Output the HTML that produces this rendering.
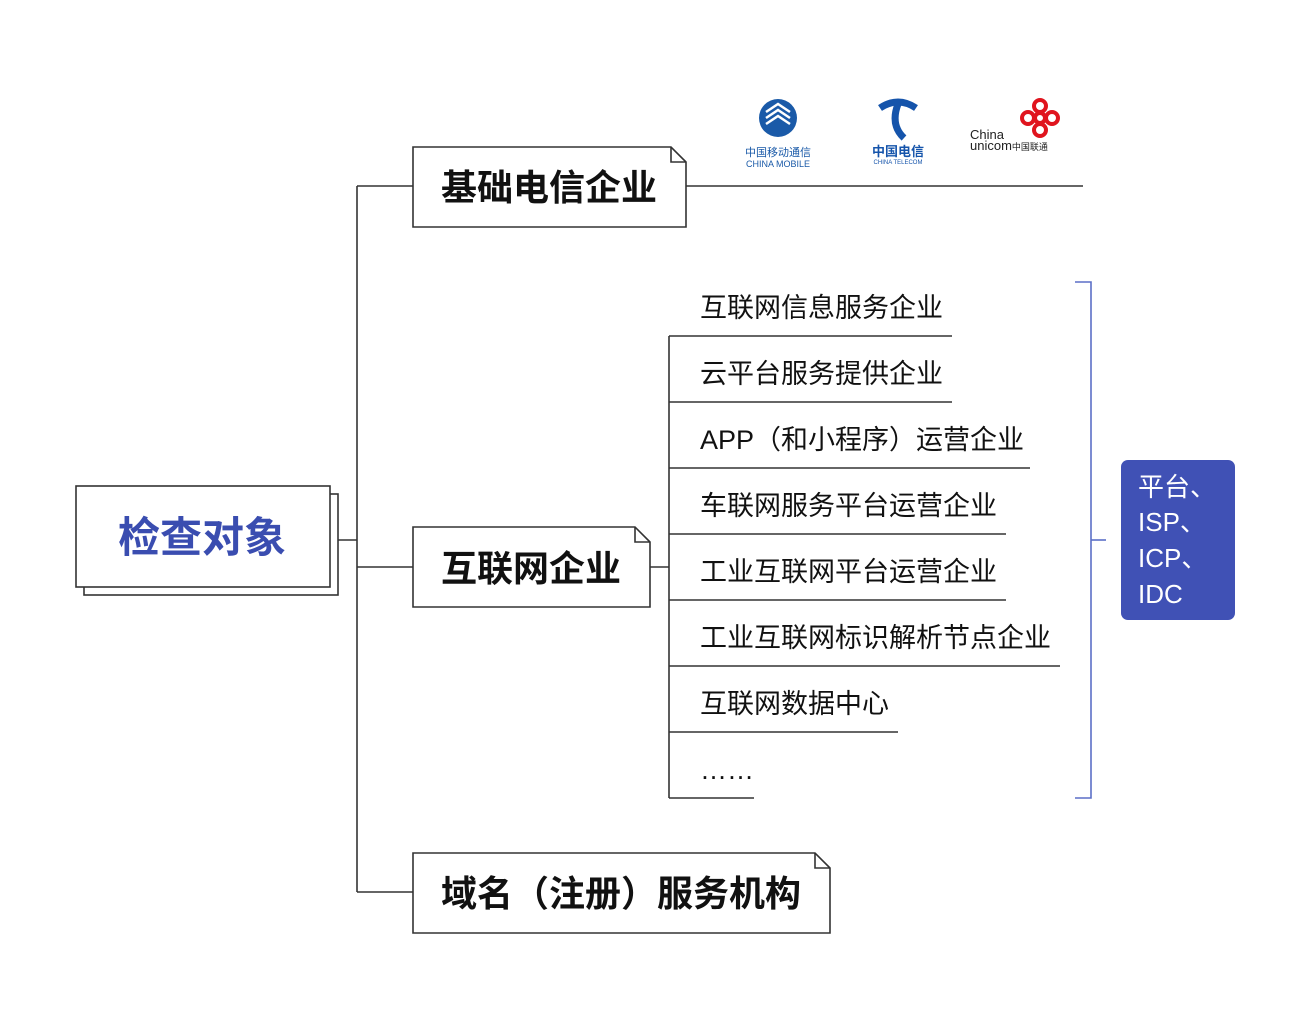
<!DOCTYPE html>
<html><head><meta charset="utf-8"><style>
html,body{margin:0;padding:0;background:#fff;}
svg{display:block;}
text{font-family:"Liberation Sans","Noto Sans CJK SC",sans-serif;}
</style></head><body>
<svg width="1311" height="1009" viewBox="0 0 1311 1009" xmlns="http://www.w3.org/2000/svg">
<g stroke="#333" stroke-width="1.6" fill="none">
<rect x="84" y="494" width="254" height="101" fill="#fff"/>
<rect x="76" y="486" width="254" height="101" fill="#fff"/>
<line x1="338" y1="540" x2="357" y2="540"/>
<line x1="357" y1="186" x2="357" y2="892"/>
<line x1="357" y1="186" x2="413" y2="186"/>
<line x1="357" y1="567" x2="413" y2="567"/>
<line x1="357" y1="892" x2="413" y2="892"/>
<path d="M413 147 H671 L686 162 V227 H413 Z" fill="#fff"/>
<path d="M671 147 V162 H686"/>
<line x1="686" y1="186" x2="1083" y2="186"/>
<path d="M413 527 H635 L650 542 V607 H413 Z" fill="#fff"/>
<path d="M635 527 V542 H650"/>
<line x1="650" y1="567" x2="669" y2="567"/>
<line x1="669" y1="336" x2="669" y2="798"/>
<line x1="669" y1="336" x2="952" y2="336"/>
<line x1="669" y1="402" x2="952" y2="402"/>
<line x1="669" y1="468" x2="1030" y2="468"/>
<line x1="669" y1="534" x2="1006" y2="534"/>
<line x1="669" y1="600" x2="1006" y2="600"/>
<line x1="669" y1="666" x2="1060" y2="666"/>
<line x1="669" y1="732" x2="898" y2="732"/>
<line x1="669" y1="798" x2="754" y2="798"/>
<path d="M413 853 H815 L830 868 V933 H413 Z" fill="#fff"/>
<path d="M815 853 V868 H830"/>
</g>
<g stroke="#5b6fc7" stroke-width="1.6" fill="none">
<path d="M1075 282 H1091 V798 H1075"/>
<line x1="1091" y1="540" x2="1106" y2="540"/>
</g>
<rect x="1121" y="460" width="114" height="160" rx="7" fill="#4051b5"/>
<g fill="#fff" font-size="26">
<text x="1138" y="496">平台、</text>
<text x="1138" y="531">ISP、</text>
<text x="1138" y="567">ICP、</text>
<text x="1138" y="603">IDC</text>
</g>
<text x="202" y="552" font-size="42" font-weight="bold" fill="#3a4db0" text-anchor="middle">检查对象</text>
<g font-size="36" font-weight="bold" fill="#111">
<text x="441" y="200">基础电信企业</text>
<text x="441" y="581">互联网企业</text>
<text x="441" y="906">域名（注册）服务机构</text>
</g>
<g font-size="27" fill="#111">
<text x="700" y="317">互联网信息服务企业</text>
<text x="700" y="383">云平台服务提供企业</text>
<text x="700" y="449">APP（和小程序）运营企业</text>
<text x="700" y="515">车联网服务平台运营企业</text>
<text x="700" y="581">工业互联网平台运营企业</text>
<text x="700" y="647">工业互联网标识解析节点企业</text>
<text x="700" y="713">互联网数据中心</text>
<text x="700" y="779">……</text>
</g>
<circle cx="778" cy="118" r="19" fill="#1a5aa8"/>
<path d="M766 112 L778 104 L790 112 M766 118 L778 110 L790 118 M766 124 L778 116 L790 124" stroke="#fff" stroke-width="2.5" fill="none"/>
<text x="778" y="156" font-size="11" fill="#1a5aa8" text-anchor="middle">中国移动通信</text>
<text x="778" y="167" font-size="9" fill="#1a5aa8" text-anchor="middle">CHINA MOBILE</text>
<path d="M880 108 Q898 96 916 108 M898 104 Q890 125 904 138" stroke="#1554ab" stroke-width="7" fill="none"/>
<text x="898" y="156" font-size="13" font-weight="bold" fill="#1554ab" text-anchor="middle">中国电信</text>
<text x="898" y="164" font-size="6" fill="#1554ab" text-anchor="middle">CHINA TELECOM</text>
<g stroke="#e0141e" stroke-width="4" fill="none">
<circle cx="1040" cy="106" r="6"/><circle cx="1028" cy="118" r="6"/><circle cx="1052" cy="118" r="6"/><circle cx="1040" cy="130" r="6"/><circle cx="1040" cy="118" r="5"/>
</g>
<text x="970" y="139" font-size="13" fill="#222">China</text>
<text x="970" y="150" font-size="13" fill="#222">unicom<tspan font-size="9">中国联通</tspan></text>
</svg>
</body></html>
